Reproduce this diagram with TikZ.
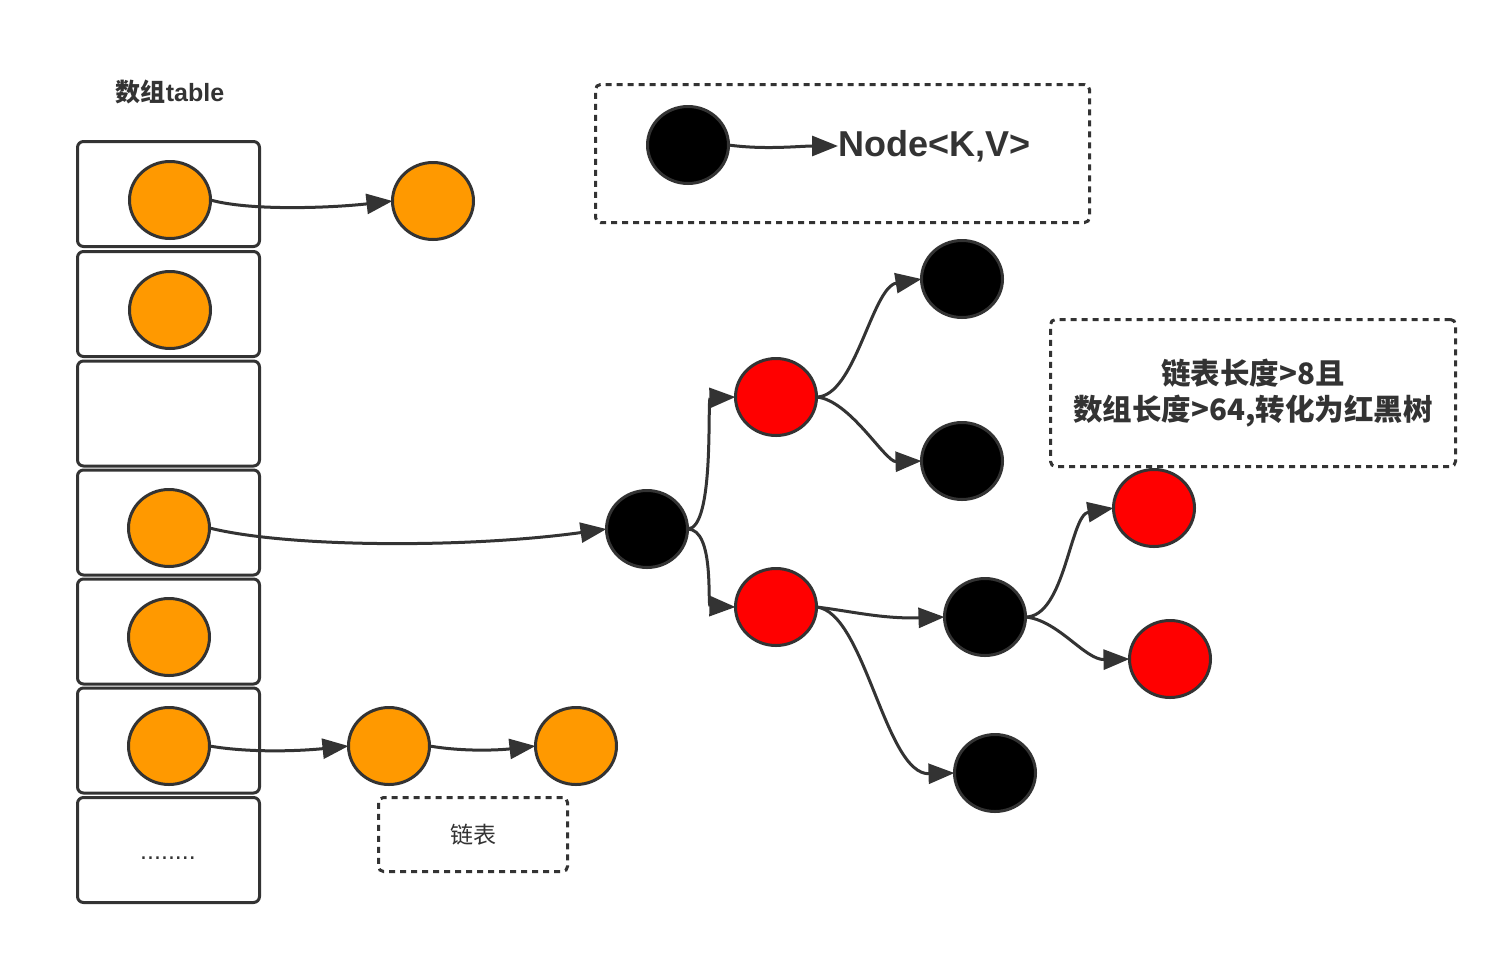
\documentclass[tikz,border=0pt]{standalone}
\usepackage{fontspec}
\setmainfont{Liberation Sans}
\newfontfamily\cjk{Noto Sans CJK SC}
\usetikzlibrary{shapes.geometric,arrows.meta}
\definecolor{ink}{HTML}{333333}
\definecolor{orng}{HTML}{FF9900}
\definecolor{rd}{HTML}{FF0000}
\begin{document}
\begin{tikzpicture}[x=1pt,y=-1pt,
  cell/.style={draw=ink,line width=3pt,rounded corners=6pt,minimum width=182pt,minimum height=105pt,inner sep=0pt,outer sep=0pt},
  ball/.style={ellipse,draw=ink,line width=3pt,minimum width=81pt,minimum height=77pt,inner sep=0pt,outer sep=0pt},
  onode/.style={ball,fill=orng},
  bnode/.style={ball,fill=black},
  rnode/.style={ball,fill=rd},
  link/.style={draw=ink,line width=3pt,-{Triangle[length=26pt,width=20pt]}},
  note/.style={draw=ink,line width=3pt,dash pattern=on 6pt off 5pt,rounded corners=5pt,inner sep=0pt,outer sep=0pt,text=ink},
]
\useasboundingbox (0,0) rectangle (1506,954);
\fill[white] (0,0) rectangle (1506,954);

% title
\node[text=ink,font=\bfseries\fontsize{25}{30}\selectfont] (title) at (170,92) {{\cjk 数组}table};

% array cells
\node[cell] (c1) at (168.5,194) {};
\node[cell] (c2) at (168.5,304) {};
\node[cell] (c3) at (168.5,413.5) {};
\node[cell] (c4) at (168.5,522.5) {};
\node[cell] (c5) at (168.5,631.5) {};
\node[cell] (c6) at (168.5,740.5) {};
\node[cell] (c7) at (168.5,850) {};
\node[text=ink,inner sep=0pt,font=\fontsize{25}{28}\selectfont] (dots) at (168,858) {........};

% orange nodes
\node[onode] (a1) at (170,200) {};
\node[onode] (b1) at (433,201) {};
\node[onode] (a2) at (170,310) {};
\node[onode] (a4) at (169,528) {};
\node[onode] (a5) at (169,637) {};
\node[onode] (a6) at (169,746) {};
\node[onode] (l1) at (389,746) {};
\node[onode] (l2) at (576,746) {};

% notes
\node[note,minimum width=494pt,minimum height=138pt] (legend) at (842.5,153.5) {};
\node[note,minimum width=189pt,minimum height=74pt,font=\cjk\fontsize{23}{28}\selectfont] (lnote) at (473,834.5) {链表};
\node[note,minimum width=405pt,minimum height=147pt,align=center,font=\cjk\bfseries\fontsize{29.5}{36}\selectfont] (tnote) at (1253,393) {链表长度>8且\\数组长度>64,转化为红黑树};

% legend
\node[bnode] (lg) at (688,145) {};
\node[anchor=west,inner sep=0pt,text=ink,font=\bfseries\fontsize{36}{40}\selectfont] (nk) at (838,146) {Node<K,V>};

% tree
\node[bnode] (root) at (647,529) {};
\node[rnode] (r1) at (776,397) {};
\node[rnode] (r2) at (776,607) {};
\node[bnode] (k1) at (962,279) {};
\node[bnode] (k2) at (962,461) {};
\node[bnode] (k3) at (985,617) {};
\node[bnode] (k4) at (995,773) {};
\node[rnode] (r3) at (1154,508) {};
\node[rnode] (r4) at (1170,659) {};

% connectors
\draw[link] (a1.east) .. controls (250,211) and (330,208) .. (b1.west);
\draw[link] (a6.east) .. controls (250,753) and (300,751) .. (l1.west);
\draw[link] (l1.east) .. controls (465,752) and (500,750) .. (l2.west);
\draw[link] (lg.east) .. controls (765,150) and (800,146) .. (nk.west);
\draw[link] (a4.east) .. controls (290,548) and (470,548) .. (root.west);
\draw[link] (root.east) .. controls (715,529) and (707,398) .. (r1.west);
\draw[link] (root.east) .. controls (715,529) and (707,606) .. (r2.west);
\draw[link] (r1.east) .. controls (855,397) and (872,287) .. (k1.west);
\draw[link] (r1.east) .. controls (850,400) and (885,462) .. (k2.west);
\draw[link] (r2.east) .. controls (850,611) and (882,619) .. (k3.west);
\draw[link] (r2.east) .. controls (865,612) and (885,775) .. (k4.west);
\draw[link] (k3.east) .. controls (1065,617) and (1070,515) .. (r3.west);
\draw[link] (k3.east) .. controls (1058,620) and (1085,660) .. (r4.west);
\end{tikzpicture}
\end{document}
